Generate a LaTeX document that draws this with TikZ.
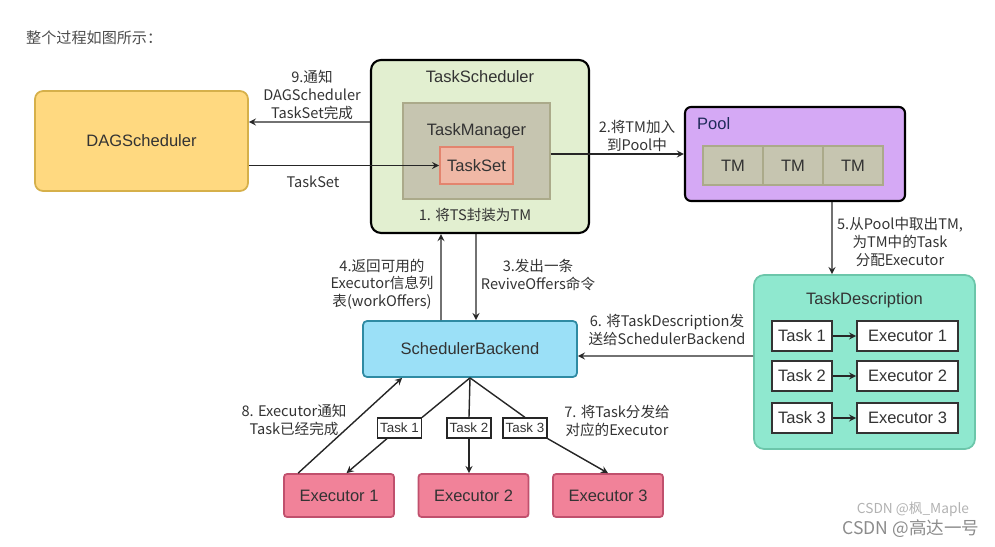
\documentclass[tikz,border=0pt]{standalone}
\usepackage{fontspec}
\setmainfont{Liberation Sans}
\newfontfamily\cjk{Noto Sans CJK SC}
\usetikzlibrary{shapes,arrows}
\definecolor{txt}{HTML}{333333}
\definecolor{dagfill}{HTML}{FFD980}
\definecolor{dagline}{HTML}{D6B04A}
\definecolor{tsfill}{HTML}{E2EFD0}
\definecolor{tmfill}{HTML}{C6C5B0}
\definecolor{tmline}{HTML}{ABAA8A}
\definecolor{tsetfill}{HTML}{F0B8A6}
\definecolor{tsetline}{HTML}{E3846E}
\definecolor{poolfill}{HTML}{D5A9F5}
\definecolor{pooltxt}{HTML}{1F2A5A}
\definecolor{tdfill}{HTML}{8FE8CF}
\definecolor{tdline}{HTML}{6CC6AA}
\definecolor{sbfill}{HTML}{9BE0F7}
\definecolor{sbline}{HTML}{2F8BA3}
\definecolor{exfill}{HTML}{F18299}
\definecolor{exline}{HTML}{C0506D}

\begin{document}
\begin{tikzpicture}[x=0.02cm,y=-0.02cm,
  box/.style={draw,line width=1pt,text=txt,font=\fontsize{9.4}{11}\selectfont},
  plain/.style={text=txt,font=\fontsize{9.4}{11}\selectfont},
  tag/.style={draw=black!85,fill=white,line width=0.7pt,inner sep=1pt,minimum width=0.88cm,minimum height=0.4cm,text=txt,font=\fontsize{7.6}{9}\selectfont},
  note/.style={align=center,text=txt,font=\cjk\fontsize{8.3}{10}\selectfont},
  link/.style={-stealth,line width=0.8pt,draw=black!85}]
\useasboundingbox (0,0) rectangle (995,547);
\node[anchor=west,text=black!70,font=\cjk\fontsize{8.6}{10}\selectfont] (head) at (20,38) {整个过程如图所示：};

% schedulers
\node[box,fill=dagfill,draw=dagline,rounded corners=0.16cm,minimum width=4.26cm,minimum height=2cm] (dag) at (141.5,141) {DAGScheduler};
\node[box,fill=tsfill,draw=black,line width=1.2pt,rounded corners=0.2cm,minimum width=4.36cm,minimum height=3.46cm] (ts) at (480,146.5) {};
\node[plain] (tstitle) at (480,77) {TaskScheduler};
\node[box,fill=tmfill,draw=tmline,minimum width=2.94cm,minimum height=1.92cm] (tm) at (476.5,151) {};
\node[plain] (tmtitle) at (476.5,131) {TaskManager};
\node[box,fill=tsetfill,draw=tsetline,minimum width=1.46cm,minimum height=0.74cm] (tset) at (476.5,165.5) {TaskSet};
\node[note] (n1) at (475,215) {1. 将TS封装为TM};

% pool
\node[box,fill=poolfill,draw=black,line width=1.2pt,rounded corners=0.12cm,minimum width=4.4cm,minimum height=1.88cm] (pool) at (795,154) {};
\node[plain,anchor=west,text=pooltxt] (pooltitle) at (691,124) {Pool};
\foreach \i/\x in {1/733,2/793,3/853}
  \node[box,fill=tmfill,draw=tmline,minimum width=1.2cm,minimum height=0.78cm] (tm\i) at (\x,165.5) {TM};

% task description
\node[box,fill=tdfill,draw=tdline,rounded corners=0.2cm,minimum width=4.42cm,minimum height=3.48cm] (td) at (864.5,362) {};
\node[plain] (tdtitle) at (864.5,300) {TaskDescription};
\foreach \i/\y in {1/336,2/376,3/418} {
  \node[box,fill=white,draw=black!80,minimum width=1.2cm,minimum height=0.6cm] (dt\i) at (802,\y) {Task \i};
  \node[box,fill=white,draw=black!80,minimum width=2.02cm,minimum height=0.6cm] (de\i) at (907.5,\y) {Executor \i};
  \draw[link] (dt\i) -- (de\i);
}

% backend and executors
\node[box,fill=sbfill,draw=sbline,rounded corners=0.08cm,minimum width=4.28cm,minimum height=1.12cm] (sb) at (470,349) {SchedulerBackend};
\foreach \i/\x in {1/399.5,2/469,3/525}
  \node[tag] (bt\i) at (\x,428) {Task \i};
\foreach \i/\x in {1/339,2/473.5,3/608}
  \node[box,fill=exfill,draw=exline,rounded corners=0.06cm,minimum width=2.2cm,minimum height=0.86cm] (ex\i) at (\x,495.5) {Executor \i};

\draw[link] ([yshift=0.49cm]ts.west) -- ([yshift=0.38cm]dag.east);
\draw[link] (dag.east |- tset.west) -- (tset.west);
\draw[link] (tm.east |- pool.west) -- (pool.west);
\draw[link] ([xshift=0.74cm]pool.south) -- ([xshift=-0.65cm]td.north);
\draw[link] ([xshift=-0.08cm]ts.south) -- ([xshift=0.12cm]sb.north); % ReviveOffers
\draw[link] ([xshift=-0.58cm]sb.north) -- ([xshift=-0.78cm]ts.south); % workOffers
\draw[link] ([yshift=0.12cm]td.west) -- ([yshift=-0.14cm]sb.east);
\draw[line width=0.8pt,black!85] (sb.south) -- (bt1.north east);
\draw[line width=0.8pt,black!85] (sb.south) -- (bt2.north);
\draw[line width=0.8pt,black!85] (sb.south) -- (bt3.north);
\draw[link] ([xshift=-0.25cm]bt1.south) -- ([xshift=0.15cm]ex1.north);
\draw[link] (bt2.south) -- (bt2.south |- ex2.north);
\draw[link] (bt3.south east) -- (ex3.north);
\draw[link] ([xshift=0.3cm]ex1.north west) -- ([xshift=0.8cm]sb.south west);

% step labels
\node[note] (n9) at (312,95) {9.通知\\DAGScheduler\\TaskSet完成};
\node[note] (nts) at (313,182) {TaskSet};
\node[note] (n2) at (637,136) {2.将TM加入\\到Pool中};
\node[note] (n5) at (900,242) {5.从Pool中取出TM,\\为TM中的Task\\分配Executor};
\node[note] (n4) at (382,284) {4.返回可用的\\Executor信息列\\表(workOffers)};
\node[note] (n3) at (538,275) {3.发出一条\\ReviveOffers命令};
\node[note] (n6) at (667,330) {6. 将TaskDescription发\\送给SchedulerBackend};
\node[note] (n8) at (294,420) {8. Executor通知\\Task已经完成};
\node[note] (n7) at (617,421) {7. 将Task分发给\\对应的Executor};

\node[text=black!30,font=\cjk\fontsize{7.8}{9}\selectfont] (wm1) at (913,509) {CSDN @枫\_Maple};
\node[text=black!45,font=\cjk\fontsize{10}{12}\selectfont] (wm2) at (911,529) {CSDN @高达一号};
\end{tikzpicture}
\end{document}
